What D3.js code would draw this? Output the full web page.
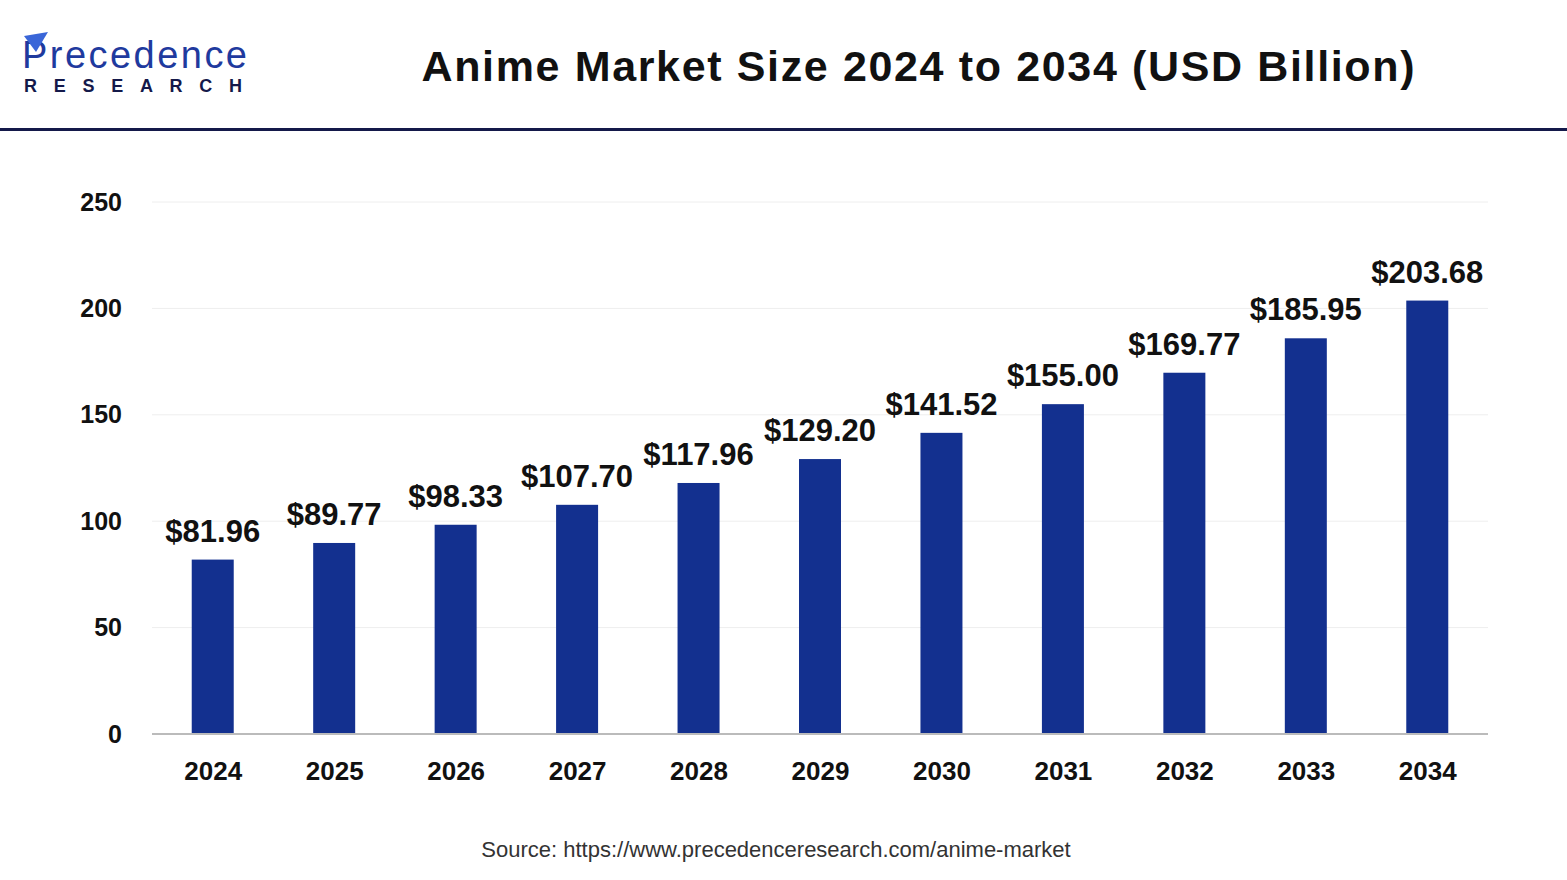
<!DOCTYPE html>
<html>
<head>
<meta charset="utf-8">
<script src="https://cdn.jsdelivr.net/npm/d3@7"></script>
<style>
  body { margin: 0; background: #fff; }
  text { font-family: "Liberation Sans", Arial, sans-serif; }
</style>
</head>
<body>
<div id="chart"></div>
<script>
  var years = ['2024', '2025', '2026', '2027', '2028', '2029', '2030', '2031', '2032', '2033', '2034'];
  var values = [81.96, 89.77, 98.33, 107.70, 117.96, 129.20, 141.52, 155.00, 169.77, 185.95, 203.68];
  var yTicks = [0, 50, 100, 150, 200, 250];

  var svgWidth = 1567,
    svgHeight = 880,
    plot = { left: 152, right: 1488, top: 202, bottom: 734 },
    barWidth = 42;

  var svg = d3.select('#chart').append('svg')
    .attr('width', svgWidth)
    .attr('height', svgHeight);

  // header
  var logo = svg.append('g');
  logo.append('text')
    .attr('x', 22).attr('y', 68)
    .attr('font-family', 'Lato, sans-serif')
    .attr('font-size', 38)
    .attr('fill', '#1f3a9e')
    .attr('textLength', 225)
    .text('Precedence');
  logo.append('path')
    .attr('d', 'M24 36 L48 32 L36 52 Z')
    .attr('fill', '#3a66d8');
  logo.append('text')
    .attr('x', 24).attr('y', 92)
    .attr('font-size', 18)
    .attr('font-weight', 'bold')
    .attr('fill', '#14194a')
    .attr('textLength', 218)
    .text('RESEARCH');

  svg.append('text')
    .attr('x', 918).attr('y', 81)
    .attr('text-anchor', 'middle')
    .attr('font-family', '"Open Sans", sans-serif')
    .attr('font-size', 43)
    .attr('font-weight', 'bold')
    .attr('fill', '#111')
    .attr('textLength', 993)
    .text('Anime Market Size 2024 to 2034 (USD Billion)');

  svg.append('rect')
    .attr('x', 0).attr('y', 128)
    .attr('width', svgWidth).attr('height', 3)
    .attr('fill', '#14194a');

  var x = d3.scalePoint().domain(years).range([plot.left, plot.right]).padding(0.5);
  var y = d3.scaleLinear().domain([0, 250]).range([plot.bottom, plot.top]);

  // gridlines
  svg.selectAll('.grid')
    .data(yTicks.slice(1))
    .enter().append('line')
    .attr('x1', plot.left).attr('x2', plot.right)
    .attr('y1', y).attr('y2', y)
    .attr('stroke', '#eeeeee');

  // y axis labels
  var yAxis = svg.append('g')
    .attr('transform', 'translate(' + (plot.left - 30) + ',0)')
    .call(d3.axisLeft(y).tickValues(yTicks).tickSize(0).tickPadding(0));
  yAxis.select('.domain').remove();
  yAxis.selectAll('text')
    .attr('font-size', 25).attr('font-weight', 'bold').attr('fill', '#111')
    .attr('font-family', '"Liberation Sans", Arial, sans-serif');

  // bars
  svg.selectAll('.bar')
    .data(values)
    .enter().append('rect')
    .attr('x', function(d, i) { return x(years[i]) - barWidth / 2; })
    .attr('y', function(d) { return y(d); })
    .attr('width', barWidth)
    .attr('height', function(d) { return plot.bottom - y(d); })
    .attr('fill', '#13308f');

  // baseline
  svg.append('line')
    .attr('x1', plot.left).attr('x2', plot.right)
    .attr('y1', plot.bottom).attr('y2', plot.bottom)
    .attr('stroke', '#bbbbbb').attr('stroke-width', 2);

  // x axis labels
  var xAxis = svg.append('g')
    .attr('transform', 'translate(0,' + (plot.bottom + 28) + ')')
    .call(d3.axisBottom(x).tickSize(0).tickPadding(0));
  xAxis.select('.domain').remove();
  xAxis.selectAll('text')
    .attr('font-size', 26).attr('font-weight', 'bold').attr('fill', '#111')
    .attr('font-family', '"Liberation Sans", Arial, sans-serif');

  // value labels
  svg.selectAll('.val')
    .data(values)
    .enter().append('text')
    .attr('x', function(d, i) { return x(years[i]); })
    .attr('y', function(d) { return y(d) - 18; })
    .attr('text-anchor', 'middle')
    .attr('font-size', 31).attr('font-weight', 'bold').attr('fill', '#111')
    .text(function(d) { return '$' + d.toFixed(2); });

  svg.append('text')
    .attr('x', 776).attr('y', 857)
    .attr('text-anchor', 'middle')
    .attr('font-size', 22).attr('fill', '#333')
    .text('Source: https://www.precedenceresearch.com/anime-market');
</script>
</body>
</html>
